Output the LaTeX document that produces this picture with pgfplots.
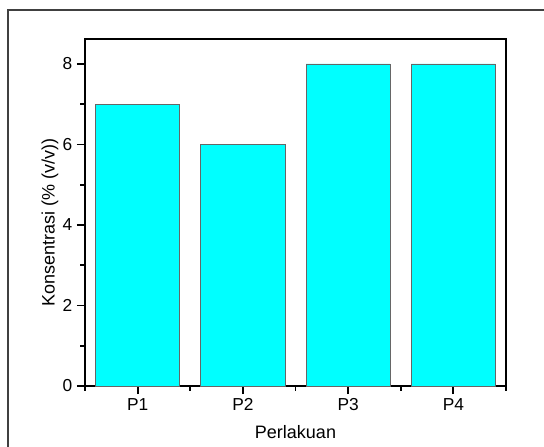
\documentclass[border=0pt]{standalone}
\usepackage{fontspec}
\setmainfont{Liberation Sans}
\usepackage{pgfplots}
\pgfplotsset{compat=1.18}
\usetikzlibrary{calc}
\definecolor{barcyan}{RGB}{0,255,255}
\begin{document}
\begin{tikzpicture}
\begin{axis}[
  name=ax,
  scale only axis,
  width=315.75pt, height=260.25pt,
  xmin=0.5, xmax=4.5, ymin=0, ymax=8.62,
  xtick={1,2,3,4}, xticklabels={P1,P2,P3,P4},
  minor xtick={0.5,1.5,2.5,3.5,4.5},
  ytick={0,2,4,6,8}, minor ytick={1,3,5,7},
  tick pos=left, tick align=outside,
  major tick length=6pt, minor tick length=3.5pt,
  every tick/.style={black, line width=1.4pt},
  axis line style={line width=1.8pt},
  tick label style={font=\fontsize{13}{15}\selectfont},
  /pgf/number format/assume math mode=true,
  xlabel={Perlakuan}, ylabel={Konsentrasi (\% (v/v))},
  xlabel style={at={(axis description cs:0.5,-0.1527)}, anchor=base, font=\fontsize{13.5}{15}\selectfont},
  ylabel style={at={(axis description cs:-0.083,0.47)}, anchor=center, font=\fontsize{13.5}{15}\selectfont},
]
\addplot[ybar, bar width=0.8, fill=barcyan, draw=black!60, line width=0.6pt]
  coordinates {(1,7) (2,6) (3,8) (4,8)};
\end{axis}
\draw[line width=0.8pt, black!75] ($(ax.south west)+(-57.75pt,-60pt)$) rectangle ($(ax.north east)+(40pt,21.75pt)$);
\pgfresetboundingbox
\path ($(ax.south west)+(-63.75pt,-45pt)$) rectangle ($(ax.north east)+(28.5pt,29.25pt)$);
\end{tikzpicture}
\end{document}
